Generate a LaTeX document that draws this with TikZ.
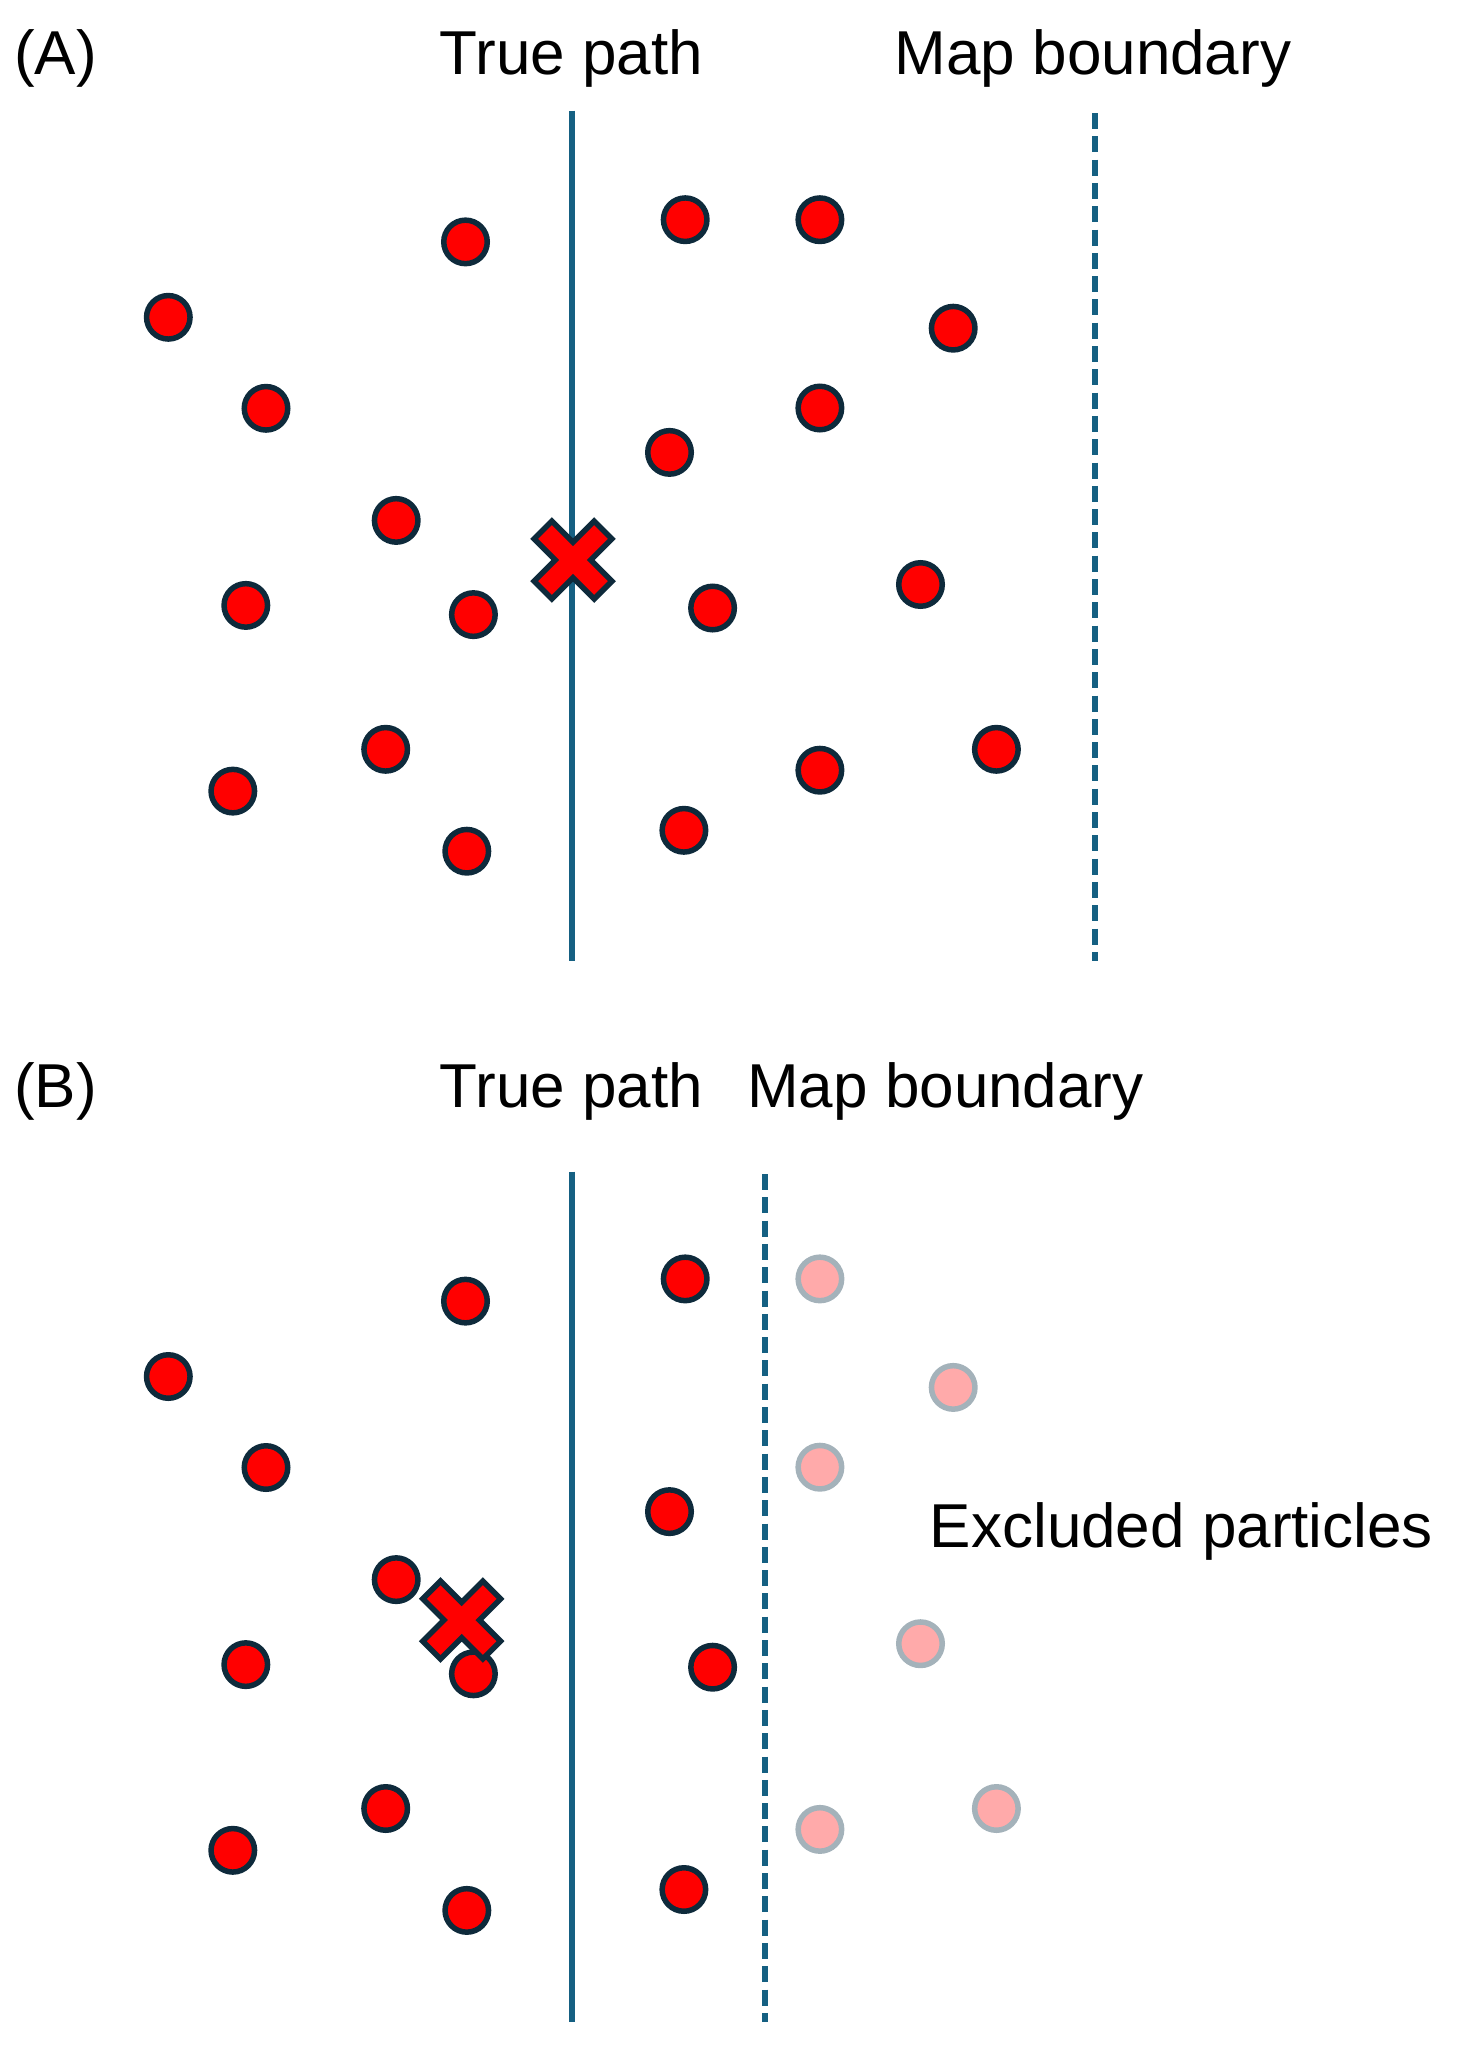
\documentclass[tikz,border=0pt]{standalone}
\usepackage{fontspec}
\setmainfont{Liberation Sans}
\definecolor{dotred}{HTML}{FF0000}
\definecolor{dotline}{HTML}{0E2A3B}
\definecolor{pathblue}{HTML}{156082}
\definecolor{fadefill}{HTML}{FFAAAA}
\definecolor{fadeline}{HTML}{A4B2BA}
\tikzset{
  dot/.style={circle, draw=dotline, fill=dotred, line width=5.5pt, minimum size=43.5pt, inner sep=0pt},
  fadedot/.style={circle, draw=fadeline, fill=fadefill, line width=5.5pt, minimum size=43.5pt, inner sep=0pt},
  truepath/.style={draw=pathblue, line width=6pt},
  boundary/.style={draw=pathblue, line width=6pt, dash pattern=on 16pt off 7.3pt},
  xcross/.style={draw=dotline, fill=dotred, line width=5.5pt, line join=miter},
  lbl/.style={inner sep=0pt, font=\fontsize{62}{70}\selectfont, anchor=base}
}
\begin{document}
\begin{tikzpicture}[x=1pt,y=-1pt]
\useasboundingbox (0,0) rectangle (1458,2051);
% ---------- Panel A ----------
\node[lbl, anchor=base west] (labA) at (14,74.5) {(A)};
\node[lbl] (tpA) at (571.5,74.5) {True path};
\node[lbl] (mbA) at (1093,74.5) {Map boundary};
\coordinate (tpAtop) at (572,110.7);
\coordinate (tpAbot) at (572,961);
\draw[truepath] (tpAtop) -- (tpAbot);
\coordinate (mbAtop) at (1094.5,113);
\coordinate (mbAbot) at (1094.5,961);
\draw[boundary] (mbAtop) -- (mbAbot);
\node[dot] (a1) at (465.5,241.9) {};
\node[dot] (a2) at (168.3,317.3) {};
\node[dot] (a3) at (266,408.3) {};
\node[dot] (a4) at (396.2,520.4) {};
\node[dot] (a5) at (245.8,605.4) {};
\node[dot] (a6) at (473.4,614.6) {};
\node[dot] (a7) at (385.7,749.3) {};
\node[dot] (a8) at (232.8,791.1) {};
\node[dot] (a9) at (466.8,851.2) {};
\node[dot] (a10) at (685.2,219.7) {};
\node[dot] (a11) at (819.9,219.7) {};
\node[dot] (a12) at (953.2,328.2) {};
\node[dot] (a13) at (819.9,408.0) {};
\node[dot] (a14) at (669.5,452.4) {};
\node[dot] (a15) at (712.6,608.0) {};
\node[dot] (a16) at (920.5,584.5) {};
\node[dot] (a17) at (996.4,749.3) {};
\node[dot] (a18) at (819.9,770.2) {};
\node[dot] (a19) at (683.9,830.3) {};
\draw[xcross, shift={(573,560)}, rotate=45]
  (12.5,12.5) -- (12.5,42.5) -- (-12.5,42.5) -- (-12.5,12.5) -- (-42.5,12.5) -- (-42.5,-12.5) -- (-12.5,-12.5)
  -- (-12.5,-42.5) -- (12.5,-42.5) -- (12.5,-12.5) -- (42.5,-12.5) -- (42.5,12.5) -- cycle;
% ---------- Panel B ----------
\node[lbl, anchor=base west] (labB) at (14,1107.5) {(B)};
\node[lbl] (tpB) at (571.5,1107.5) {True path};
\node[lbl] (mbB) at (945.5,1107.5) {Map boundary};
\node[lbl, anchor=base west] (exB) at (929.7,1547) {Excluded particles};
\coordinate (tpBtop) at (572,1171.6);
\coordinate (tpBbot) at (572,2022);
\draw[truepath] (tpBtop) -- (tpBbot);
\coordinate (mbBtop) at (765,1174);
\coordinate (mbBbot) at (765,2022);
\draw[boundary] (mbBtop) -- (mbBbot);
\node[dot] (b1) at (465.5,1301.1) {};
\node[dot] (b2) at (168.3,1376.5) {};
\node[dot] (b3) at (266,1467.5) {};
\node[dot] (b4) at (396.2,1579.6) {};
\node[dot] (b5) at (245.8,1664.6) {};
\node[dot] (b6) at (473.4,1673.8) {};
\node[dot] (b7) at (385.7,1808.5) {};
\node[dot] (b8) at (232.8,1850.3) {};
\node[dot] (b9) at (466.8,1910.4) {};
\node[dot] (b10) at (685.2,1278.9) {};
\node[dot] (b14) at (669.5,1511.6) {};
\node[dot] (b15) at (712.6,1667.2) {};
\node[dot] (b19) at (683.9,1889.5) {};
\node[fadedot] (f11) at (819.9,1278.9) {};
\node[fadedot] (f12) at (953.2,1387.4) {};
\node[fadedot] (f13) at (819.9,1467.2) {};
\node[fadedot] (f16) at (920.5,1643.7) {};
\node[fadedot] (f17) at (996.4,1808.5) {};
\node[fadedot] (f18) at (819.9,1829.4) {};
\draw[xcross, shift={(461.7,1620)}, rotate=45]
  (12.5,12.5) -- (12.5,42.5) -- (-12.5,42.5) -- (-12.5,12.5) -- (-42.5,12.5) -- (-42.5,-12.5) -- (-12.5,-12.5)
  -- (-12.5,-42.5) -- (12.5,-42.5) -- (12.5,-12.5) -- (42.5,-12.5) -- (42.5,12.5) -- cycle;
\end{tikzpicture}
\end{document}
